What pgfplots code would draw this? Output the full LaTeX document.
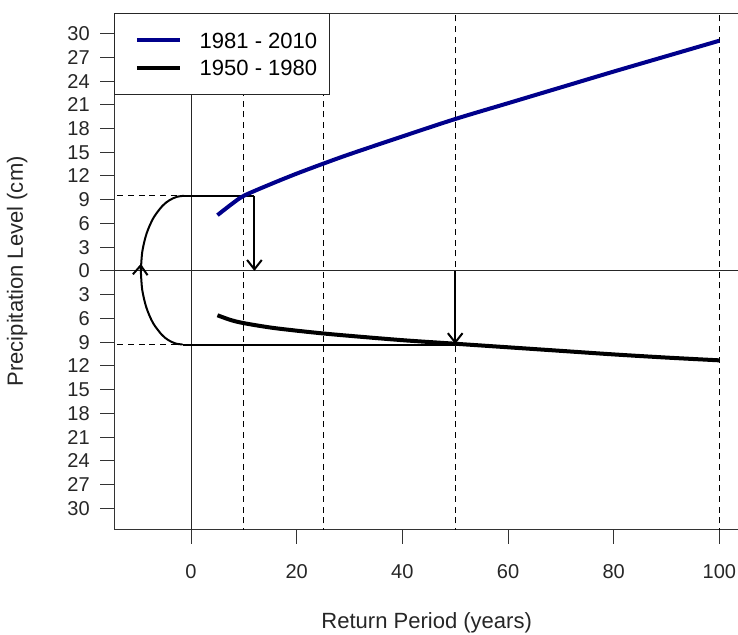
\documentclass[border=0pt]{standalone}
\usepackage{pgfplots}
\pgfplotsset{compat=1.18}
\usepackage{fontspec}
\setmainfont{Liberation Sans}
\usetikzlibrary{calc,arrows.meta}
\definecolor{rblue}{RGB}{0,0,139}
\begin{document}
\begin{tikzpicture}
\begin{axis}[
  name=ax,
  scale only axis,
  width=467.8pt, height=387pt,
  xmin=-14.5, xmax=103.7,
  ymin=-32.7, ymax=32.6,
  axis line style={line width=0.75pt, black!80},
  tick style={line width=0.75pt, black!80},
  tick align=outside,
  major tick length=10.5pt,
  xtick pos=bottom, ytick pos=left,
  xtick={0,20,40,60,80,100},
  ytick={-30,-27,...,30},
  yticklabels={30,27,24,21,18,15,12,9,6,3,0,3,6,9,12,15,18,21,24,27,30},
  /pgf/number format/assume math mode=true,
  ticklabel style={font=\fontsize{15}{17}\selectfont, text=black!85},
  xticklabel style={yshift=-12pt},
  yticklabel style={xshift=-4.5pt},
  every axis x label/.style={at={(axis description cs:0.5,0)}, anchor=center, yshift=-70pt},
  every axis y label/.style={at={(axis description cs:-0.1555,0.5)}, rotate=90, anchor=center},
  label style={font=\fontsize{16.5}{18}\selectfont, text=black!85},
  xlabel={Return Period (years)},
  ylabel={Precipitation Level (cm)},
  legend style={at={(rel axis cs:0,1)}, anchor=north west, draw=black!85, line width=0.75pt, fill=white,
    inner xsep=4pt, inner ysep=14pt, row sep=8.75pt, column sep=8.5pt,
    font=\fontsize{16.5}{18}\selectfont,
    nodes={inner xsep=5pt, inner ysep=0pt, text height=12pt, text depth=0pt, anchor=west}},
  legend cell align=left,
  legend image code/.code={\path (0pt,0pt); \draw[#1] (11pt,0pt) -- (43pt,0pt);},
]
\addlegendimage{rblue, line width=3pt}
\addlegendentry{1981 - 2010}
\addlegendimage{black, line width=3pt}
\addlegendentry{1950 - 1980}

% dashed verticals
\addplot[forget plot, black, line width=0.8pt, dash pattern=on 4.5pt off 3.5pt] coordinates {(10,-40) (10,40)};
\addplot[forget plot, black, line width=0.8pt, dash pattern=on 4.5pt off 3.5pt] coordinates {(25,-40) (25,40)};
\addplot[forget plot, black, line width=0.8pt, dash pattern=on 4.5pt off 3.5pt] coordinates {(50,-40) (50,40)};
\addplot[forget plot, black, line width=0.8pt, dash pattern=on 4.5pt off 3.5pt] coordinates {(100,-40) (100,40)};
% dashed horizontals
\addplot[forget plot, black, line width=0.8pt, dash pattern=on 4.5pt off 3.5pt] coordinates {(-20,9.5) (-1.3,9.5)};
\addplot[forget plot, black, line width=0.8pt, dash pattern=on 4.5pt off 3.5pt] coordinates {(-20,-9.3) (-1.6,-9.3)};
% solid reference lines
\addplot[forget plot, black!85, line width=0.75pt] coordinates {(0,-40) (0,40)};
\addplot[forget plot, black!85, line width=0.75pt] coordinates {(-20,0) (110,0)};
% connector lines
\addplot[forget plot, black, line width=1.5pt] coordinates {(-1.3,9.5) (12,9.5)};
\addplot[forget plot, black, line width=1.5pt] coordinates {(-1.6,-9.3) (50,-9.3)};
\addplot[forget plot, black, line width=1.5pt, smooth] coordinates {
 (-1.30,9.50) (-2.72,9.36) (-4.10,8.93) (-5.40,8.23) (-7.10,6.72) (-8.40,4.75) (-9.22,2.46) (-9.50,0)};
\addplot[forget plot, black, line width=1.5pt, smooth, -{Straight Barb[length=7pt,width=11pt]}] coordinates {
 (-1.60,-9.30) (-2.97,-9.16) (-4.30,-8.74) (-5.55,-8.05) (-7.19,-6.58) (-8.44,-4.65) (-9.23,-2.41) (-9.50,0) (-9.50,0.9)};
% arrows
\addplot[forget plot, black, line width=1.5pt, -{Straight Barb[length=7pt,width=11pt]}] coordinates {(12,9.5) (12,0)};
\addplot[forget plot, black, line width=1.5pt, -{Straight Barb[length=7pt,width=11pt]}] coordinates {(50,0) (50,-9.25)};
% curves
\addplot[forget plot, rblue, line width=3pt, smooth] coordinates {
 (5,7.05) (7.5,8.35) (10,9.5) (15,10.95) (20,12.3) (25,13.55) (30,14.75) (40,17.0) (50,19.2) (60,21.2) (70,23.2) (80,25.2) (90,27.15) (100,29.1)};
\addplot[forget plot, black, line width=3pt, smooth] coordinates {
 (5,-5.6) (7.5,-6.2) (10,-6.6) (15,-7.15) (20,-7.55) (25,-7.9) (30,-8.2) (40,-8.75) (50,-9.2) (60,-9.65) (70,-10.1) (80,-10.55) (90,-10.95) (100,-11.3)};
\end{axis}
\pgfresetboundingbox
\useasboundingbox ($(ax.south west)+(-85.7pt,-78.75pt)$) rectangle ($(ax.north east)+(-0.7pt,9.75pt)$);
\end{tikzpicture}
\end{document}
